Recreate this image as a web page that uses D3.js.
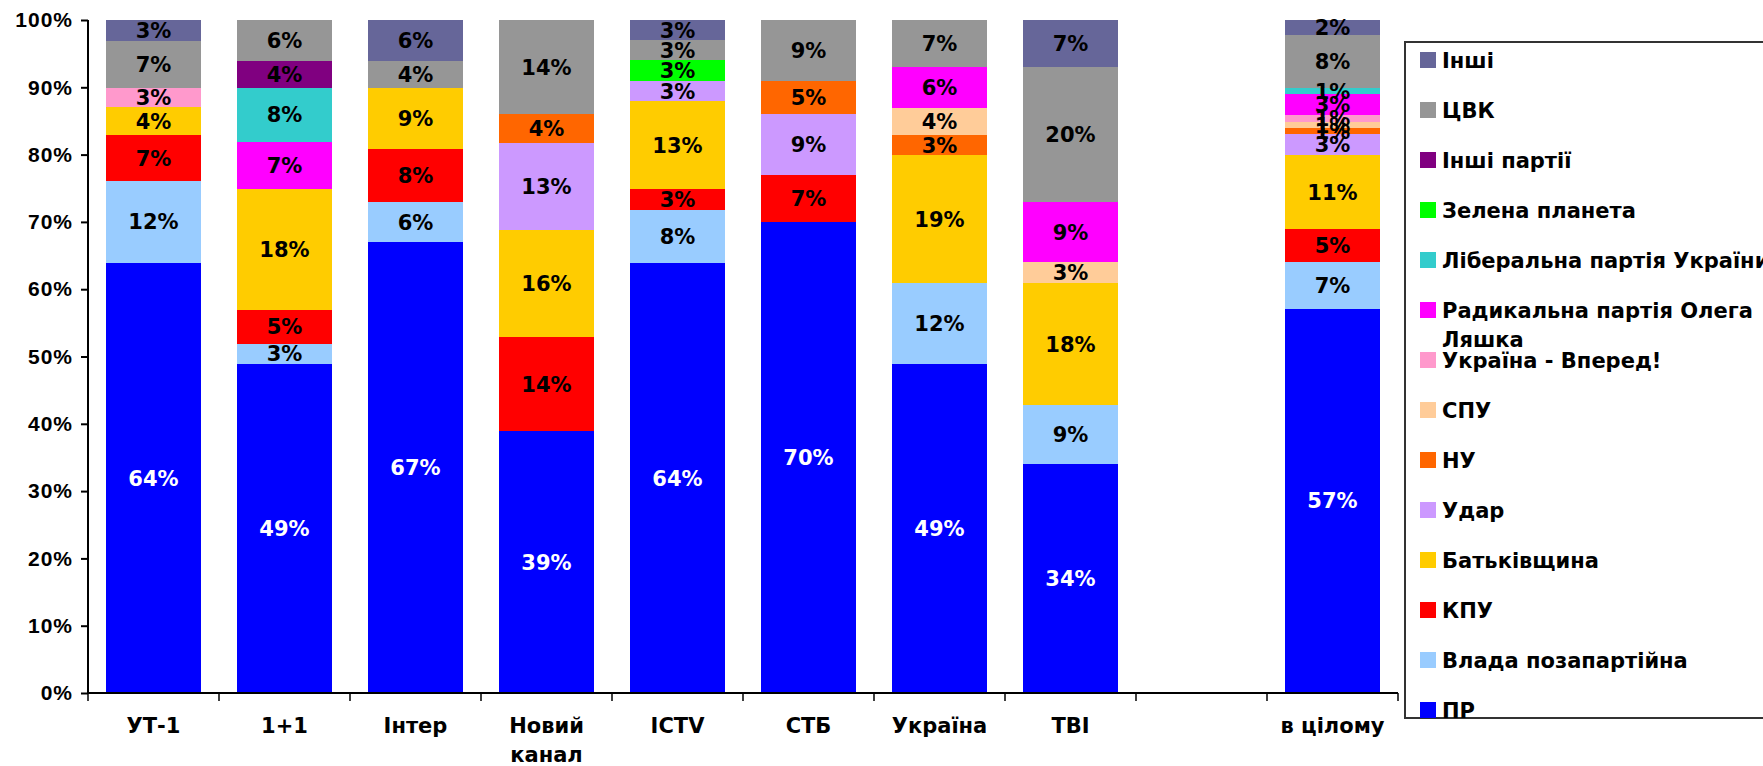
<!DOCTYPE html>
<html>
<head>
<meta charset="utf-8">
<script src="https://cdn.jsdelivr.net/npm/d3@7"></script>
<style>
  body { margin: 0; background: #fff; }
  svg { display: block; font-family: "DejaVu Sans", Verdana, sans-serif; font-weight: bold; }
</style>
</head>
<body>
<div id="chart"></div>
<script>
var width = 1763;
var height = 766;

// channels (one empty slot before the total)
var categories = ['УТ-1', '1+1', 'Інтер', 'Новий канал', 'ICTV', 'СТБ', 'Україна', 'ТВІ', '', 'в цілому'];

// parties, bottom of the stack first
var parties = ['ПР', 'Влада позапартійна', 'КПУ', 'Батьківщина', 'Удар', 'НУ', 'СПУ',
  'Україна - Вперед!', 'Радикальна партія Олега Ляшка', 'Ліберальна партія України',
  'Зелена планета', 'Інші партії', 'ЦВК', 'Інші'];

var colors = ['#0000FF', '#99CCFF', '#FF0000', '#FFCC00', '#CC99FF', '#FF6600', '#FFCC99',
  '#FF99CC', '#FF00FF', '#33CCCC', '#00FF00', '#800080', '#969696', '#666699'];

// shares in %, one value per channel
var pr        = [63.9, 48.9, 67.0, 38.9, 63.9, 70.0, 48.9, 34.0, 0, 57.1];
var vlada     = [12.2, 3.0, 5.9, 0, 7.9, 0, 12.0, 8.8, 0, 6.9];
var kpu       = [6.8, 5.0, 7.9, 14.0, 3.1, 7.0, 0, 0, 0, 4.9];
var batk      = [4.1, 18.0, 9.1, 15.9, 13.0, 0, 19.0, 18.1, 0, 11.1];
var udar      = [0, 0, 0, 12.9, 3.0, 9.0, 0, 0, 0, 3.0];
var nu        = [0, 0, 0, 4.3, 0, 4.9, 3.0, 0, 0, 0.9];
var spu       = [0, 0, 0, 0, 0, 0, 4.0, 3.1, 0, 1.0];
var ukrVpered = [2.9, 0, 0, 0, 0, 0, 0, 0, 0, 1.0];
var radykal   = [0, 7.0, 0, 0, 0, 0, 6.1, 8.9, 0, 3.1];
var liberal   = [0, 8.0, 0, 0, 0, 0, 0, 0, 0, 0.9];
var zelena    = [0, 0, 0, 0, 3.1, 0, 0, 0, 0, 0];
var inshiPart = [0, 4.0, 0, 0, 0, 0, 0, 0, 0, 0];
var cvk       = [7.0, 6.1, 4.0, 14.0, 3.0, 9.1, 7.0, 20.1, 0, 7.9];
var inshi     = [3.1, 0, 6.1, 0, 3.0, 0, 0, 7.0, 0, 2.2];

var yTicks = [0, 10, 20, 30, 40, 50, 60, 70, 80, 90, 100];

var seriesValues = [pr, vlada, kpu, batk, udar, nu, spu, ukrVpered, radykal, liberal, zelena, inshiPart, cvk, inshi];

var table = categories.map(function(c, i) {
  var row = { idx: i };
  parties.forEach(function(p, j) { row[p] = seriesValues[j][i]; });
  return row;
});

var svg = d3.select('#chart')
  .append('svg')
  .attr('width', width)
  .attr('height', height);

var x = d3.scaleBand()
  .domain(d3.range(categories.length))
  .range([88, 1398])
  .paddingInner(0.28)
  .paddingOuter(0.14);

var y = d3.scaleLinear()
  .domain([0, 100])
  .range([693, 20]);

var color = d3.scaleOrdinal().domain(parties).range(colors);

var stack = d3.stack().keys(parties);
var layers = stack(table);

var layer = svg.selectAll('.layer')
  .data(layers)
  .enter()
  .append('g')
  .attr('class', 'layer')
  .attr('fill', function(d) { return color(d.key); });

layer.selectAll('rect')
  .data(function(d) { return d.filter(function(s) { return s[1] - s[0] > 0; }); })
  .enter()
  .append('rect')
  .attr('shape-rendering', 'crispEdges')
  .attr('x', function(d) { return x(d.data.idx); })
  .attr('width', x.bandwidth())
  .attr('y', function(d) { return y(d[1]); })
  .attr('height', function(d) { return y(d[0]) - y(d[1]); });

// segment labels
layers.forEach(function(l) {
  svg.append('g')
    .selectAll('text')
    .data(l.filter(function(s) { return s[1] - s[0] > 0; }))
    .enter()
    .append('text')
    .attr('x', function(d) { return x(d.data.idx) + x.bandwidth() / 2; })
    .attr('y', function(d) { return (y(d[0]) + y(d[1])) / 2; })
    .attr('dy', '0.36em')
    .attr('text-anchor', 'middle')
    .style('font-size', '21px')
    .attr('fill', l.key === 'ПР' ? '#fff' : '#000')
    .text(function(d) { return Math.round(d[1] - d[0]) + '%'; });
});

// y axis
var yAxis = svg.append('g')
  .attr('transform', 'translate(88,0)')
  .call(d3.axisLeft(y).tickValues(yTicks).tickSize(7).tickPadding(8)
    .tickFormat(function(d) { return d + '%'; }));
yAxis.selectAll('text').style('font-size', '21px').style('letter-spacing', '1px').attr('fill', '#000');
yAxis.selectAll('line, path').attr('stroke', '#000').attr('stroke-width', 2);
yAxis.select('.domain').attr('d', 'M0,20V693');

// x axis: line with ticks at the category boundaries
var xAxis = svg.append('g');
xAxis.append('line')
  .attr('x1', 88).attr('x2', 1398)
  .attr('y1', y(0)).attr('y2', y(0))
  .attr('stroke', '#000').attr('stroke-width', 2);
xAxis.selectAll('.xtick')
  .data(d3.range(categories.length + 1))
  .enter()
  .append('line')
  .attr('x1', function(i) { return 88 + i * x.step(); })
  .attr('x2', function(i) { return 88 + i * x.step(); })
  .attr('y1', y(0)).attr('y2', y(0) + 8)
  .attr('stroke', '#000').attr('stroke-width', 1.5);

var xLabels = xAxis.selectAll('.xlabel')
  .data(categories)
  .enter()
  .append('text')
  .attr('text-anchor', 'middle')
  .attr('x', function(d, i) { return x(i) + x.bandwidth() / 2; })
  .attr('y', 733)
  .style('font-size', '21px')
  .attr('fill', '#000');
xLabels.each(function(d) {
  var words = d === 'Новий канал' ? ['Новий', 'канал'] : [d];
  var t = d3.select(this);
  words.forEach(function(w, k) {
    t.append('tspan')
      .attr('x', t.attr('x'))
      .attr('dy', k === 0 ? 0 : 29)
      .text(w);
  });
});

// legend, top entry first
var legendBox = svg.append('g');
legendBox.append('rect')
  .attr('x', 1405).attr('y', 42)
  .attr('width', 420).attr('height', 676)
  .attr('fill', '#fff')
  .attr('stroke', '#333').attr('stroke-width', 2);

var legendOrder = parties.slice().reverse();
var legend = legendBox.selectAll('.legend')
  .data(legendOrder)
  .enter()
  .append('g')
  .attr('class', 'legend')
  .attr('transform', function(d, i) { return 'translate(1420,' + (60 + i * 50) + ')'; });

legend.append('rect')
  .attr('y', -8)
  .attr('width', 16)
  .attr('height', 16)
  .attr('fill', function(d) { return color(d); });

legend.append('text')
  .attr('x', 22)
  .attr('dy', '0.36em')
  .style('font-size', '21px')
  .attr('fill', '#000')
  .each(function(d) {
    var t = d3.select(this);
    var lines = d === 'Радикальна партія Олега Ляшка' ? ['Радикальна партія Олега', 'Ляшка'] : [d];
    lines.forEach(function(w, k) {
      t.append('tspan').attr('x', 22).attr('dy', k === 0 ? '0.36em' : 29).text(w);
    });
  });
</script>
</body>
</html>
